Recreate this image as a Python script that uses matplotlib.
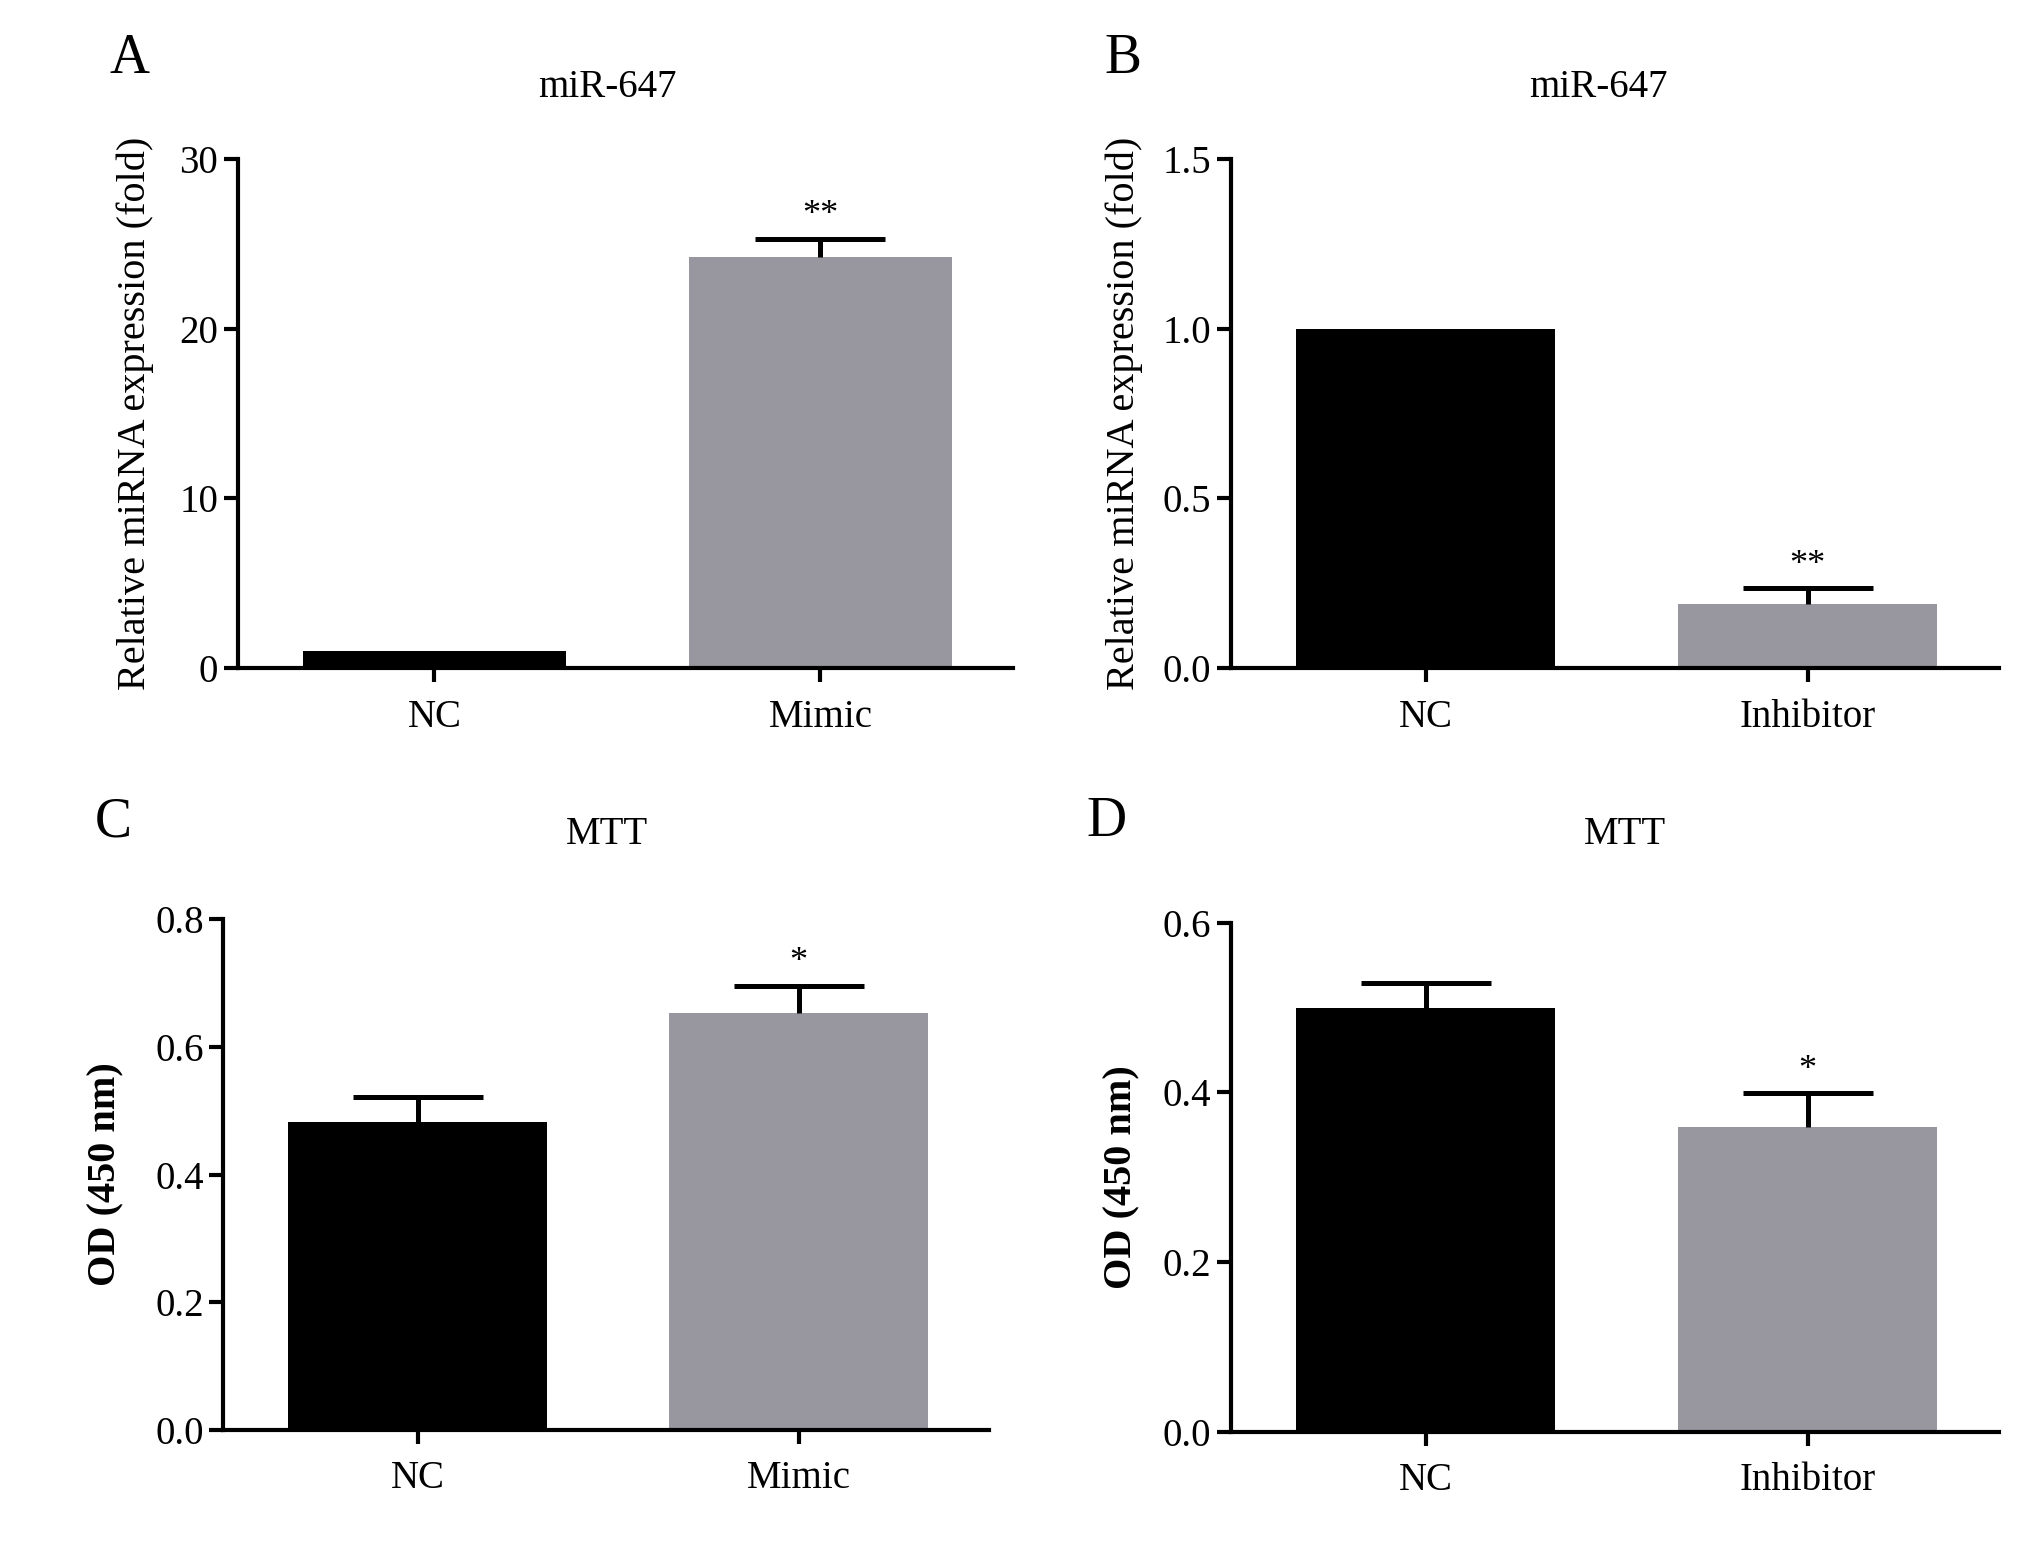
import numpy as np
import matplotlib
matplotlib.use('Agg')
import matplotlib.pyplot as plt

plt.rcParams['font.family'] = ['Liberation Serif', 'DejaVu Serif']

# data
cats_mimic = ['NC', 'Mimic']
cats_inhib = ['NC', 'Inhibitor']

a_vals = [1.0, 24.2]
a_err = [0.0, 1.1]
a_stars = ['', '**']

b_vals = [1.0, 0.19]
b_err = [0.0, 0.045]
b_stars = ['', '**']

c_vals = [0.482, 0.653]
c_err = [0.040, 0.043]
c_stars = ['', '*']

d_vals = [0.500, 0.359]
d_err = [0.029, 0.040]
d_stars = ['', '*']

colors = ['#000000', '#98969f']

fig = plt.figure(figsize=(20.31, 15.43), dpi=100)

def panel(rect, cats, vals, errs, stars, ylim, yticks, ticklabels, ylabel, bold, star_off, lpad):
    ax = fig.add_axes(rect)
    x = np.arange(len(cats))
    ax.bar(x, vals, width=0.68, color=colors, zorder=2)
    for xi, v, e, s in zip(x, vals, errs, stars):
        if e > 0:
            eb = ax.errorbar(xi, v, yerr=[[0], [e]], fmt='none', ecolor='black',
                             elinewidth=3.6, capsize=47, capthick=3.6, zorder=3)
            # only the upper cap is shown
            eb[1][0].set_visible(False)
        if s:
            ax.text(xi, v + e + star_off, s, ha='center', va='bottom', fontsize=26)
    ax.set_xlim(-0.51, 1.5)
    ax.set_ylim(*ylim)
    ax.set_yticks(yticks)
    ax.set_yticklabels(ticklabels)
    ax.set_xticks(x)
    ax.set_xticklabels(cats)
    for sp in ['top', 'right']:
        ax.spines[sp].set_visible(False)
    for sp in ['left', 'bottom']:
        ax.spines[sp].set_linewidth(3)
    ax.tick_params(axis='both', width=3, length=10, labelsize=28, direction='out', pad=4)
    ax.tick_params(axis='x', pad=12)
    ax.set_ylabel(ylabel, fontsize=29, fontweight='bold' if bold else 'normal', labelpad=lpad)
    return ax

panel([0.117, 0.567, 0.382, 0.330], cats_mimic, a_vals, a_err, a_stars,
      (0, 30), [0, 10, 20, 30], ['0', '10', '20', '30'],
      'Relative miRNA expression (fold)', False, 0.4, 18)
panel([0.606, 0.567, 0.378, 0.330], cats_inhib, b_vals, b_err, b_stars,
      (0, 1.5), [0, 0.5, 1.0, 1.5], ['0.0', '0.5', '1.0', '1.5'],
      'Relative miRNA expression (fold)', False, 0.02, 14)
panel([0.110, 0.0733, 0.377, 0.331], cats_mimic, c_vals, c_err, c_stars,
      (0, 0.8), [0, 0.2, 0.4, 0.6, 0.8], ['0.0', '0.2', '0.4', '0.6', '0.8'],
      'OD (450 nm)', True, 0.01, 22)
panel([0.606, 0.072, 0.378, 0.330], cats_inhib, d_vals, d_err, d_stars,
      (0, 0.6), [0, 0.2, 0.4, 0.6], ['0.0', '0.2', '0.4', '0.6'],
      'OD (450 nm)', True, 0.008, 16)

# titles and panel letters
fig.text(0.299, 0.943, 'miR-647', ha='center', va='center', fontsize=28)
fig.text(0.787, 0.943, 'miR-647', ha='center', va='center', fontsize=28)
fig.text(0.299, 0.459, 'MTT', ha='center', va='center', fontsize=28)
fig.text(0.800, 0.459, 'MTT', ha='center', va='center', fontsize=28)
fig.text(0.064, 0.962, 'A', ha='center', va='center', fontsize=40)
fig.text(0.553, 0.962, 'B', ha='center', va='center', fontsize=40)
fig.text(0.056, 0.467, 'C', ha='center', va='center', fontsize=40)
fig.text(0.545, 0.467, 'D', ha='center', va='center', fontsize=40)

fig.savefig('out.png', dpi=100)
